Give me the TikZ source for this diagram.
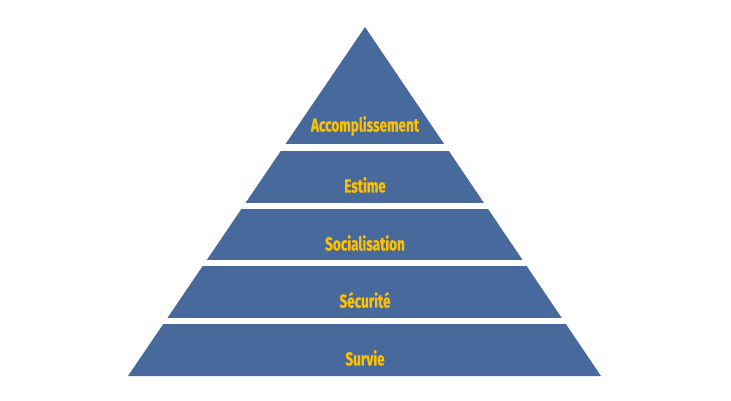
\documentclass[tikz,border=0pt]{standalone}
\usepackage{fontspec}
\setmainfont[FakeStretch=0.72, BoldFeatures={FakeBold=0.6}]{Fira Sans}
\definecolor{bleu}{HTML}{47699B}
\definecolor{jaune}{HTML}{FFC000}
\begin{document}
\begin{tikzpicture}[x=1pt, y=-1pt, etage/.style={font=\bfseries\fontsize{18.8}{18.8}\selectfont, text=jaune, inner sep=0pt}]
	% Cadre de l'image
	\useasboundingbox (0,0) rectangle (731,401);
	
	% Le triangle entier
	\fill[color=bleu] (365,27) -- (601,376) -- (128,376) -- cycle;
	
	% Bandes blanches entre les niveaux
	\fill[white] (100,144.5) rectangle (630,150.7);
	\fill[white] (100,203.3) rectangle (630,208.7);
	\fill[white] (100,260.3) rectangle (630,266.2);
	\fill[white] (100,317.6) rectangle (630,323.6);
	
	% Noms des niveaux
	\node[etage] (accomplissement) at (365,126) {Accomplissement};
	\node[etage] (estime) at (365,185) {Estime};
	\node[etage] (socialisation) at (365,243) {Socialisation};
	\node[etage] (securite) at (365,300) {Sécurité};
	\node[etage] (survie) at (365,358) {Survie};
\end{tikzpicture}
\end{document}
